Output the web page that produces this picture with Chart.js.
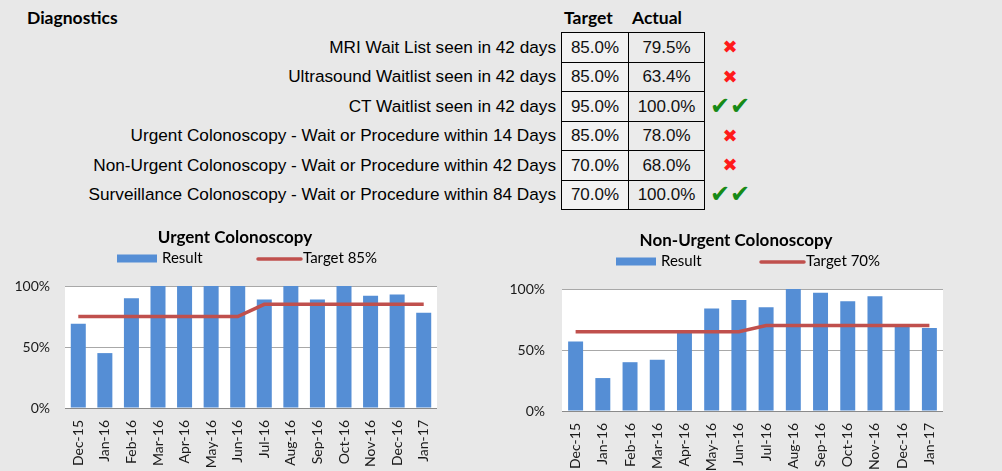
<!DOCTYPE html>
<html><head><meta charset="utf-8">
<script src="https://cdn.jsdelivr.net/npm/chart.js@4/dist/chart.umd.min.js"></script>
<style>
html,body{margin:0;padding:0;background:#e8e8e8;width:1002px;height:471px;overflow:hidden;position:relative;}
.t{position:absolute;white-space:nowrap;color:#000;}
.hd{font:bold 17.5px Lato,sans-serif;}
.lbl{font:17.2px "Liberation Sans",Arial,sans-serif;text-align:right;left:0;width:556px;}
.cell{position:absolute;box-sizing:border-box;border:1px solid #000;font:17px "Liberation Sans",Arial,sans-serif;text-align:center;color:#111;}
.mk{position:absolute;text-align:center;width:60px;left:700px;font-family:"DejaVu Sans",sans-serif;}
canvas{position:absolute;}
</style>
</head><body>
<div class="t hd" style="left:27px;top:7px;">Diagnostics</div>
<div class="t hd" style="left:564px;top:7px;">Target</div>
<div class="t hd" style="left:632px;top:7px;">Actual</div>
<div id="tbl"></div>
<canvas id="c1" width="470" height="246" style="left:0;top:225px;width:470px;height:246px;"></canvas>
<canvas id="c2" width="472" height="246" style="left:500px;top:225px;width:472px;height:246px;"></canvas>
<script>
// ---- data ----
const tableLabels = [
  'MRI Wait List seen in 42 days',
  'Ultrasound Waitlist seen in 42 days',
  'CT Waitlist seen in 42 days',
  'Urgent Colonoscopy - Wait or Procedure within 14 Days',
  'Non-Urgent Colonoscopy - Wait or Procedure within 42 Days',
  'Surveillance Colonoscopy - Wait or Procedure within 84 Days'
];
const tableTarget = ['85.0%','85.0%','95.0%','85.0%','70.0%','70.0%'];
const tableActual = ['79.5%','63.4%','100.0%','78.0%','68.0%','100.0%'];
const tableStatus = ['fail','fail','pass','fail','fail','pass'];

const months = ['Dec-15','Jan-16','Feb-16','Mar-16','Apr-16','May-16','Jun-16','Jul-16','Aug-16','Sep-16','Oct-16','Nov-16','Dec-16','Jan-17'];
const urgentResult = [69,45,90,100,100,100,100,89,100,89,100,92,93,78];
const urgentTarget = [75,75,75,75,75,75,75,85,85,85,85,85,85,85];
const nonUrgentResult = [57,27,40,42,65,84,91,85,100,97,90,94,70,68];
const nonUrgentTarget = [65,65,65,65,65,65,65,70,70,70,70,70,70,70];
const yTicks = [0,50,100];

// ---- table ----
const tbl = document.getElementById('tbl');
const rowTop = 32, rowH = 29.5;
tableLabels.forEach((lab,i)=>{
  const top = Math.round(rowTop + i*rowH);
  const h = Math.round(rowTop + (i+1)*rowH) - top;
  const l = document.createElement('div');
  l.className='t lbl'; l.textContent=lab;
  l.style.top = top+'px'; l.style.height=h+'px'; l.style.lineHeight=h+'px';
  tbl.appendChild(l);
  const c1 = document.createElement('div');
  c1.className='cell'; c1.textContent=tableTarget[i];
  c1.style.cssText += `left:561px;top:${top}px;width:68px;height:${h+1}px;line-height:${h-1}px;background:#f2f2f2;`;
  tbl.appendChild(c1);
  const c2 = document.createElement('div');
  c2.className='cell'; c2.textContent=tableActual[i];
  c2.style.cssText += `left:628px;top:${top}px;width:77px;height:${h+1}px;line-height:${h-1}px;background:#ebebeb;`;
  tbl.appendChild(c2);
  const m = document.createElement('div');
  m.className='mk';
  if (tableStatus[i]==='pass'){ m.textContent='✔✔'; m.style.color='#178a17'; m.style.fontSize='24px'; }
  else { m.textContent='✖'; m.style.color='#ff1a1a'; m.style.fontSize='18px'; }
  m.style.top = top+'px'; m.style.height=h+'px'; m.style.lineHeight=h+'px';
  tbl.appendChild(m);
});

// ---- charts ----
const BAR='#558ED5', LINE='#C0504D';
const decor = {
  id:'decor',
  beforeDraw(chart){
    const {ctx, chartArea:a} = chart;
    ctx.save(); ctx.fillStyle='#ffffff';
    ctx.fillRect(a.left, a.top, a.right-a.left, a.bottom-a.top);
    ctx.restore();
  },
  afterDraw(chart, args, o){
    const ctx = chart.ctx;
    ctx.save();
    ctx.fillStyle='#000'; ctx.textBaseline='middle';
    ctx.font='bold 17px Lato'; ctx.textAlign='center';
    ctx.fillText(o.title, chart.width/2, o.titleY);
    ctx.font='15px Lato'; ctx.textAlign='left';
    const ds = chart.data.datasets;
    ctx.fillStyle = ds[0].backgroundColor;
    ctx.fillRect(o.barX, o.legY-4, 40, 8);
    ctx.fillStyle='#000'; ctx.fillText(ds[0].label, o.barX+45, o.legY);
    ctx.strokeStyle = ds[1].borderColor; ctx.lineWidth=3.5; ctx.lineCap='round';
    ctx.beginPath(); ctx.moveTo(o.lineX, o.legY+0.5); ctx.lineTo(o.lineX+43, o.legY+0.5); ctx.stroke();
    ctx.fillText(ds[1].label, o.lineX+45, o.legY);
    ctx.restore();
  }
};

function makeChart(id, result, target, targetLabel, cfg){
  return new Chart(document.getElementById(id), {
    type:'bar',
    data:{
      labels: months,
      datasets:[
        {type:'bar', label:'Result', data:result, backgroundColor:BAR, borderWidth:0, barPercentage:cfg.barPct, categoryPercentage:1, order:1},
        {type:'line', label:targetLabel, data:target, borderColor:LINE, borderWidth:3.5, pointRadius:0, tension:0, fill:false, order:0}
      ]
    },
    options:{
      responsive:false, animation:false,
      layout:{padding:{top:cfg.top, left:0, right:cfg.right, bottom:0}},
      plugins:{legend:{display:false}, tooltip:{enabled:false}, title:{display:false},
        decor:{title:cfg.title, titleY:cfg.titleY, legY:cfg.legY, barX:cfg.barX, lineX:cfg.lineX}},
      scales:{
        x:{grid:{display:false}, border:{display:false},
           ticks:{autoSkip:false, minRotation:90, maxRotation:90, padding:cfg.xPad, color:'#1a1a1a', font:{family:'Lato', size:14}},
           afterFit(s){ s.height = cfg.xH; }},
        y:{min:0, max:100, border:{display:false},
           afterBuildTicks(s){ s.ticks = yTicks.map(v=>({value:v})); },
           grid:{drawTicks:false, lineWidth:1, color:(c)=> c.tick && c.tick.value===0 ? '#8a8a8a' : '#a8a8a8'},
           ticks:{padding:cfg.yPad, color:'#1a1a1a', font:{family:'Lato', size:14}, callback:(v)=>v+'%'},
           afterFit(s){ s.width = cfg.yW; }}
      }
    },
    plugins:[decor]
  });
}

makeChart('c1', urgentResult, urgentTarget, 'Target 85%', {
  title:'Urgent Colonoscopy', titleY:13, legY:33.5, barX:117, lineX:258,
  top:61, right:33, xH:63, yW:65, xPad:4, yPad:15, barPct:0.565
});
makeChart('c2', nonUrgentResult, nonUrgentTarget, 'Target 70%', {
  title:'Non-Urgent Colonoscopy', titleY:16, legY:36.5, barX:116, lineX:261,
  top:64, right:29, xH:60, yW:62, xPad:4, yPad:17, barPct:0.55
});
</script>
</body></html>
